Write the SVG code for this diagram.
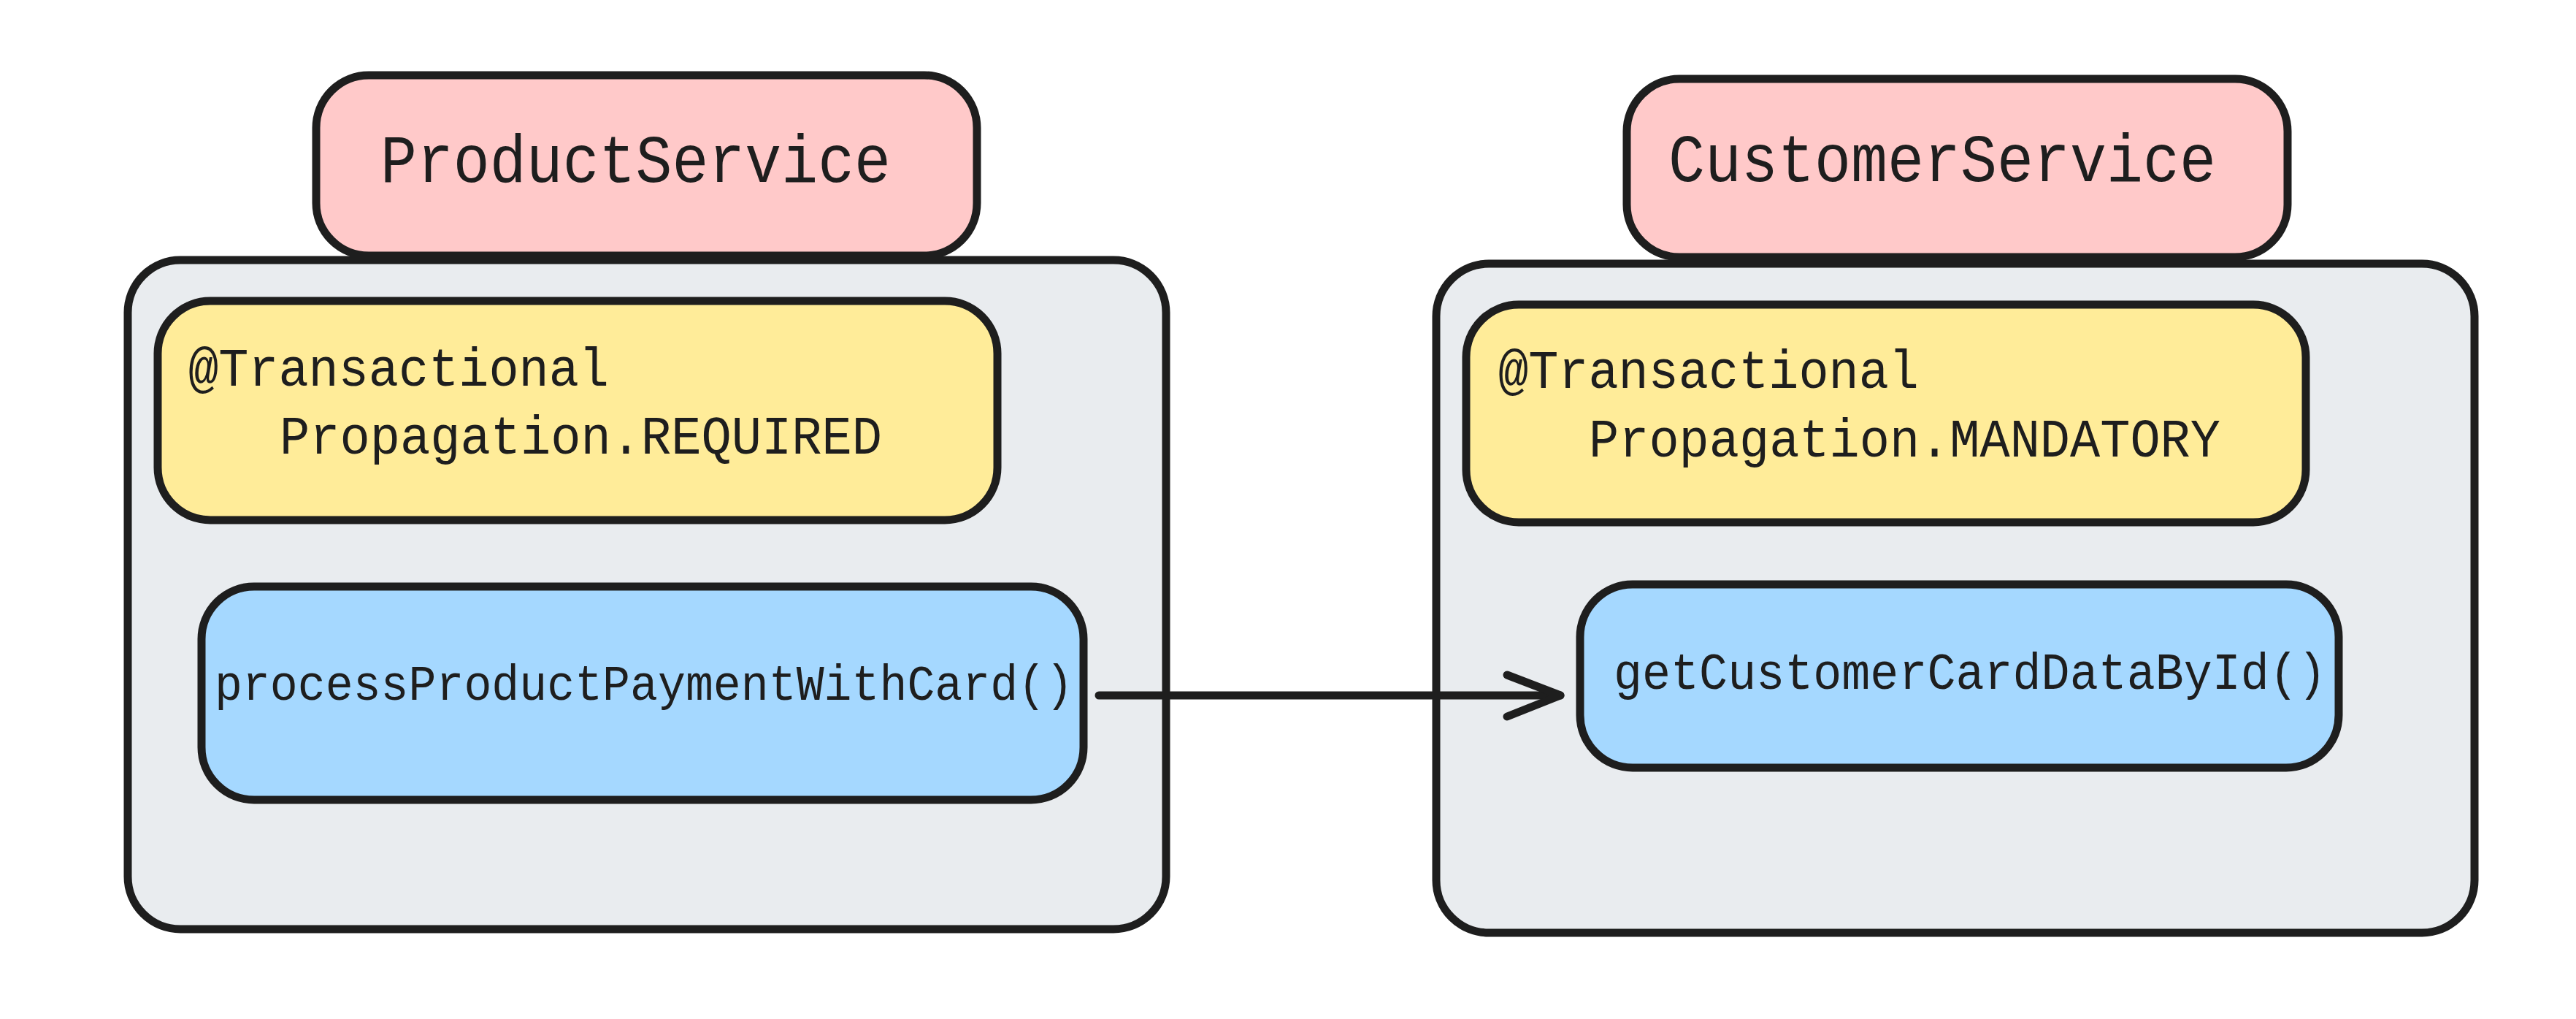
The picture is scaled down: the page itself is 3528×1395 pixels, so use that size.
<svg xmlns="http://www.w3.org/2000/svg" width="3528" height="1395" viewBox="0 0 3528 1395">
<style>
.box{stroke:#1e1e1e;stroke-width:11;stroke-linejoin:round}
.hdr{fill:#ffc9c9}
.cont{fill:#e9ecef}
.ann{fill:#ffec99}
.meth{fill:#a5d8ff}
text{font-family:"Liberation Mono","DejaVu Sans Mono",monospace;fill:#1e1e1e}
.t1{font-size:92px}
.t2{font-size:75px}
.t3{font-size:68px}
.t4{font-size:71px}
.conn{stroke:#1e1e1e;stroke-width:11;stroke-linecap:round;stroke-linejoin:round;fill:none}
</style>
<rect width="3528" height="1395" fill="#ffffff"/>
<g id="product-service-header">
<rect class="box hdr" x="433" y="103" width="905" height="247" rx="72"/>
<text class="t1" x="521" y="249" textLength="699" lengthAdjust="spacingAndGlyphs">ProductService</text>
</g>
<g id="product-service">
<rect class="box cont" x="175" y="356" width="1422" height="916" rx="72"/>
</g>
<g id="product-annotation">
<rect class="box ann" x="216" y="412" width="1150" height="300" rx="72"/>
<text class="t2" x="258" y="528" textLength="576" lengthAdjust="spacingAndGlyphs">@Transactional</text>
<text class="t2" x="383" y="621" textLength="825" lengthAdjust="spacingAndGlyphs">Propagation.REQUIRED</text>
</g>
<g id="product-method">
<rect class="box meth" x="276" y="803" width="1208" height="292" rx="72"/>
<text class="t3" x="294" y="958" textLength="1176" lengthAdjust="spacingAndGlyphs">processProductPaymentWithCard()</text>
</g>
<g id="customer-service-header">
<rect class="box hdr" x="2228" y="108" width="905" height="244" rx="72"/>
<text class="t1" x="2285" y="248" textLength="750" lengthAdjust="spacingAndGlyphs">CustomerService</text>
</g>
<g id="customer-service">
<rect class="box cont" x="1967" y="361" width="1422" height="916" rx="72"/>
</g>
<g id="customer-annotation">
<rect class="box ann" x="2008" y="417" width="1150" height="298" rx="72"/>
<text class="t2" x="2052" y="531" textLength="576" lengthAdjust="spacingAndGlyphs">@Transactional</text>
<text class="t2" x="2176" y="625" textLength="865" lengthAdjust="spacingAndGlyphs">Propagation.MANDATORY</text>
</g>
<g id="customer-method">
<rect class="box meth" x="2164" y="800" width="1039" height="251" rx="72"/>
<text class="t4" x="2210" y="943" textLength="976" lengthAdjust="spacingAndGlyphs">getCustomerCardDataById()</text>
</g>
<g id="connectors">
<path class="conn" d="M1505 952 L2137 952"/>
<path class="conn" d="M2064 924 L2137 952 L2064 981"/>
</g>
</svg>
